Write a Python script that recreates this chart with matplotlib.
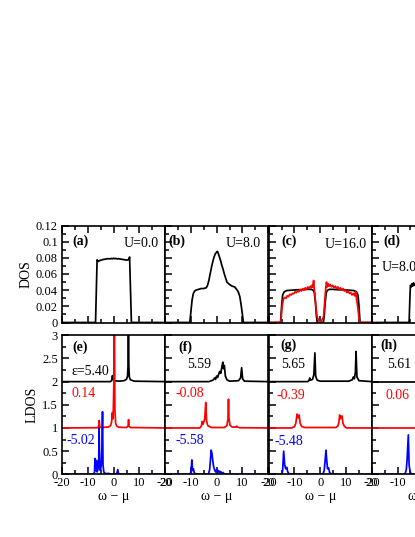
import matplotlib
matplotlib.use("Agg")
import matplotlib.pyplot as plt
from matplotlib.ticker import MultipleLocator, FuncFormatter

plt.rcParams['font.family'] = ['Liberation Serif', 'DejaVu Serif']
plt.rcParams['axes.unicode_minus'] = False
plt.rcParams['mathtext.fontset'] = 'stix'

# ---------------- top row: DOS ----------------
a_w = [-20, -7.0, -6.4, -6.1, -5.8, -5.5, -5.0, -4.5, -4.0, -3.5, -3.0, -2.5, -2.0, -1.5, -1.0, -0.5,
       0.0, 0.5, 1.0, 1.5, 2.0, 2.5, 3.0, 3.5, 4.0, 4.5, 5.0, 5.5, 5.9, 6.2, 6.9, 20]
a_dos = [0, 0, 0.0775, 0.0765, 0.0755, 0.0765, 0.077, 0.0775, 0.078, 0.0782, 0.0785, 0.0788, 0.079,
         0.0786, 0.0793, 0.0788, 0.0795, 0.0789, 0.0792, 0.0786, 0.079, 0.0785, 0.0784, 0.078, 0.0778,
         0.0775, 0.0772, 0.0775, 0.078, 0.081, 0, 0]

b_w = [-20, -10.4, -10.0, -9.5, -9.0, -8.5, -8.0, -7.0, -6.0, -5.0, -4.0, -3.5, -3.0, -2.5, -2.0,
       -1.5, -1.0, -0.5, 0.0, 0.3, 0.6, 1.0, 1.5, 2.0, 2.5, 3.0, 3.5, 4.0, 5.0, 6.0, 7.0, 7.5, 8.0,
       8.5, 9.0, 9.5, 10.0, 10.4, 20]
b_dos = [0, 0, 0.012, 0.028, 0.036, 0.039, 0.040, 0.041, 0.042, 0.042, 0.043, 0.046, 0.052, 0.060,
         0.068, 0.075, 0.081, 0.085, 0.087, 0.088, 0.086, 0.082, 0.077, 0.071, 0.066, 0.060, 0.055,
         0.050, 0.047, 0.045, 0.044, 0.042, 0.040, 0.037, 0.032, 0.022, 0.010, 0, 0]

c_w = [-20, -15.4, -15.0, -14.6, -14.0, -13.0, -11.0, -9.0, -7.0, -5.0, -3.5, -2.8, -2.3, -1.9,
       -1.5, -1.2, 1.2, 1.5, 1.9, 2.3, 2.8, 3.5, 5.0, 7.0, 9.0, 11.0, 13.0, 14.0, 14.6, 15.0, 15.4, 20]
c_dos_black = [0, 0, 0.02, 0.034, 0.038, 0.0395, 0.040, 0.0405, 0.0405, 0.041, 0.041, 0.040, 0.037,
               0.025, 0.008, 0, 0, 0.008, 0.025, 0.037, 0.040, 0.041, 0.041, 0.0405, 0.0405, 0.040,
               0.0395, 0.038, 0.034, 0.02, 0, 0]

c_red_w = [-20, -15.3, -14.8, -14.3, -13.8, -13.3, -12.8, -12.3, -11.8, -11.3, -10.8, -10.3, -9.8,
           -9.3, -8.8, -8.3, -7.8, -7.3, -6.8, -6.3, -5.8, -5.3, -4.8, -4.3, -3.8, -3.3, -3.0, -2.8,
           -2.6, -2.4, -2.1, -1.7, -1.3, -1.0, 0.0, 1.0, 1.3, 1.7, 2.1, 2.4, 2.7, 3.0, 3.4, 3.8, 4.3,
           4.8, 5.3, 5.8, 6.3, 6.8, 7.3, 7.8, 8.3, 8.8, 9.3, 9.8, 10.3, 10.8, 11.3, 11.8, 12.3, 12.8,
           13.3, 13.7, 14.0, 14.5, 15.0, 15.4, 20]
c_dos_red = [0, 0, 0.02, 0.029, 0.031, 0.030, 0.033, 0.032, 0.035, 0.034, 0.036, 0.0355, 0.038,
             0.037, 0.039, 0.038, 0.041, 0.039, 0.042, 0.040, 0.043, 0.041, 0.044, 0.042, 0.045,
             0.043, 0.047, 0.044, 0.052, 0.043, 0.035, 0.02, 0.008, 0.005, 0, 0.005, 0.008, 0.025,
             0.042, 0.050, 0.044, 0.048, 0.045, 0.047, 0.044, 0.046, 0.043, 0.045, 0.042, 0.044,
             0.041, 0.043, 0.040, 0.042, 0.039, 0.040, 0.037, 0.039, 0.036, 0.037, 0.034, 0.036,
             0.033, 0.038, 0.030, 0.02, 0.005, 0, 0]

d_w = [-20, -5.5, -5.2, -5.0, -4.7, -4.4, -4.1, -3.8, -3.5, -3.2, -2.9, -2.0, 0.0, 2.0, 3.0, 4.5,
       5.0, 5.3, 20]
d_dos = [0, 0, 0.03, 0.046, 0.044, 0.048, 0.045, 0.049, 0.046, 0.048, 0.046, 0.047, 0.046, 0.047,
         0.046, 0.047, 0.03, 0, 0]

# ---------------- bottom row: LDOS (black +2, red +1, blue +0) ----------------
e_black_w = [-20, -1.2, -0.7, -0.45, -0.2, 0.3, 2.0, 4.0, 5.0, 5.4, 5.6, 5.75, 5.9, 6.1, 6.5, 8.0, 20]
e_black = [0, 0, 0.03, 0.13, 0.05, 0.02, 0.01, 0.02, 0.05, 0.12, 0.35, 1.6, 0.35, 0.1, 0.04, 0.01, 0]
e_red_w = [-20, -6.3, -5.8, -5.6, -5.4, -5.0, -2.0, -1.2, -0.8, -0.5, -0.3, -0.1, 0.1, 0.3, 0.5,
           0.8, 1.2, 2.0, 5.0, 5.6, 5.8, 6.0, 6.5, 20]
e_red = [0, 0.005, 0.03, 0.16, 0.03, 0.01, 0.02, 0.05, 0.12, 0.33, 0.2, 0.4, 1.0, 2.5, 0.4, 0.1,
         0.04, 0.015, 0.01, 0.04, 0.18, 0.04, 0.01, 0]
e_blue_w = [-20, -7.8, -7.4, -7.2, -7.0, -6.8, -6.6, -6.4, -6.1, -5.8, -5.6, -5.4, -5.1, -4.8,
            -4.5, -4.3, -4.1, -3.8, -3.4, -3.0, -2.0, -1.0, 1.2, 1.6, 2.0, 3.0, 20]
e_blue = [0, 0, 0.05, 0.34, 0.08, 0.1, 0.3, 0.05, 0.1, 0.2, 1.0, 0.15, 0.08, 0.2, 0.6, 1.35, 0.2,
          0.05, 0.03, 0.01, 0.02, 0.0, 0.0, 0.1, 0.0, 0.0, 0]

f_black_w = [-20, -3.0, -2.0, -1.2, -0.8, -0.4, 0.0, 0.4, 0.8, 1.2, 1.6, 2.0, 2.4, 2.7, 3.0, 3.4,
             4.0, 5.0, 8.5, 9.3, 9.7, 10.1, 10.8, 20]
f_black = [0, 0.0, 0.02, 0.04, 0.08, 0.05, 0.12, 0.09, 0.16, 0.22, 0.18, 0.3, 0.42, 0.28, 0.35,
           0.12, 0.04, 0.01, 0.02, 0.08, 0.3, 0.06, 0.01, 0]
f_red_w = [-20, -6.5, -5.9, -5.6, -5.3, -5.0, -4.6, -4.2, -3.9, -3.4, -2.0, 3.0, 4.0, 4.4, 4.6,
           4.8, 5.2, 6.0, 7.5, 7.8, 8.1, 9.0, 20]
f_red = [0, 0, 0.04, 0.14, 0.08, 0.12, 0.2, 0.55, 0.15, 0.05, 0.01, 0.01, 0.05, 0.2, 0.62, 0.2,
         0.06, 0.02, 0.02, 0.04, 0.02, 0.005, 0]
f_blue_w = [-20, -10.3, -9.9, -9.6, -9.3, -9.0, -8.6, -7.0, -3.2, -2.7, -2.4, -2.1, -1.8, -1.5,
            -1.2, -0.8, -0.4, 0.0, 0.4, 0.8, 1.2, 1.6, 2.0, 2.5, 3.0, 20]
f_blue = [0, 0, 0.06, 0.31, 0.08, 0.12, 0.02, 0, 0, 0.1, 0.3, 0.52, 0.45, 0.3, 0.18, 0.1, 0.05,
          0.1, 0.04, 0.08, 0.03, 0.06, 0.02, 0.04, 0.0, 0]

g_black_w = [-20, -5.0, -4.4, -4.1, -3.8, -3.0, -2.5, -2.1, -1.8, -1.2, 0.0, 11.0, 12.4, 12.8, 13.2,
             13.6, 13.85, 14.2, 15.0, 20]
g_black = [0, 0, 0.02, 0.08, 0.03, 0.05, 0.15, 0.62, 0.12, 0.03, 0.01, 0.01, 0.04, 0.1, 0.06, 0.2,
           0.65, 0.1, 0.02, 0]
g_red_w = [-20, -11.0, -10.0, -9.5, -9.0, -8.6, -8.2, -7.8, -7.2, -6.0, 6.0, 6.8, 7.2, 7.5, 7.9,
           8.4, 8.8, 9.4, 10.2, 20]
g_red = [0, 0, 0.03, 0.1, 0.3, 0.22, 0.28, 0.1, 0.03, 0.01, 0.01, 0.04, 0.12, 0.28, 0.2, 0.26,
         0.1, 0.03, 0.0, 0]
g_blue_w = [-20, -15.0, -14.6, -14.2, -13.8, -13.4, -13.0, -12.6, -12.0, 1.0, 1.5, 1.8, 2.2, 2.5,
            2.8, 3.2, 3.6, 4.5, 20]
g_blue = [0, 0, 0.08, 0.5, 0.2, 0.12, 0.15, 0.05, 0, 0, 0.08, 0.25, 0.52, 0.3, 0.12, 0.14, 0.04,
          0.0, 0]

h_black_w = [-20, 20]
h_black = [0, 0]
h_red_w = [-20, 20]
h_red = [0, 0]
h_blue_w = [-20, -7.5, -7.0, -6.6, -6.3, -5.8, -5.5, -5.1, -4.5, 20]
h_blue = [0, 0, 0.02, 0.1, 0.3, 0.85, 0.2, 0.05, 0, 0]

top_panels = [
    dict(tag='(a)', tag_xy=(-15.8, 0.1), u='U=0.0', u_xy=(17.4, 0.098), u_ha='right',
         curves=[(a_w, a_dos, 'black')]),
    dict(tag='(b)', tag_xy=(-18.7, 0.1), u='U=8.0', u_xy=(17.3, 0.098), u_ha='right',
         curves=[(b_w, b_dos, 'black')]),
    dict(tag='(c)', tag_xy=(-15.0, 0.1), u='U=16.0', u_xy=(18.1, 0.096), u_ha='right',
         curves=[(c_w, c_dos_black, 'black'), (c_red_w, c_dos_red, 'red')]),
    dict(tag='(d)', tag_xy=(-15.5, 0.1), u='U=8.0', u_xy=(-16.2, 0.068), u_ha='left',
         curves=[(d_w, d_dos, 'black')]),
]

bottom_panels = [
    dict(tag='(e)', tag_xy=(-15.8, 2.74),
         labels=[('ε=5.40', (-16.2, 2.22), 'black'), ('0.14', (-16.2, 1.75), 'red'),
                 ('-5.02', (-18.1, 0.74), 'blue')],
         curves=[(e_black_w, e_black, 'black'), (e_red_w, e_red, 'red'), (e_blue_w, e_blue, 'blue')]),
    dict(tag='(f)', tag_xy=(-14.8, 2.75),
         labels=[('5.59', (-11.5, 2.36), 'black'), ('-0.08', (-16.1, 1.75), 'red'),
                 ('-5.58', (-16.1, 0.72), 'blue')],
         curves=[(f_black_w, f_black, 'black'), (f_red_w, f_red, 'red'), (f_blue_w, f_blue, 'blue')]),
    dict(tag='(g)', tag_xy=(-15.6, 2.79),
         labels=[('5.65', (-15.0, 2.36), 'black'), ('-0.39', (-16.9, 1.71), 'red'),
                 ('-5.48', (-17.6, 0.70), 'blue')],
         curves=[(g_black_w, g_black, 'black'), (g_red_w, g_red, 'red'), (g_blue_w, g_blue, 'blue')]),
    dict(tag='(h)', tag_xy=(-16.8, 2.79),
         labels=[('5.61', (-14.2, 2.36), 'black'), ('0.06', (-14.8, 1.71), 'red')],
         curves=[(h_black_w, h_black, 'black'), (h_red_w, h_red, 'red'), (h_blue_w, h_blue, 'blue')]),
]
offsets = {'black': 2.0, 'red': 1.0, 'blue': 0.0}

W, H = 415, 537
fig = plt.figure(figsize=(W / 100, H / 100), dpi=100)

lefts = [62, 165, 268.7, 371.7]
pw = 103.2
top_y0, top_y1 = 225.5, 322.5
bot_y0, bot_y1 = 335.3, 474.3

fmt = FuncFormatter(lambda v, p: '{:g}'.format(round(v, 4)))


def style(ax, top_row):
    for s in ax.spines.values():
        s.set_linewidth(1.2)
    ax.xaxis.set_major_locator(MultipleLocator(10))
    ax.xaxis.set_minor_locator(MultipleLocator(5))
    ax.tick_params(which='both', direction='in', right=False, top=top_row, width=1.1,
                   labelsize=9)
    ax.tick_params(which='major', length=5)
    ax.tick_params(which='minor', length=2.7)
    ax.tick_params(axis='x', pad=2)
    ax.tick_params(axis='y', pad=3)
    ax.xaxis.set_major_formatter(fmt)
    ax.yaxis.set_major_formatter(fmt)


for i, p in enumerate(top_panels):
    ax = fig.add_axes([lefts[i] / W, 1 - top_y1 / H, pw / W, (top_y1 - top_y0) / H])
    for w, v, c in p['curves']:
        ax.plot(w, v, color=c, lw=1.25)
    ax.set_xlim(-20, 20)
    ax.set_ylim(0, 0.12)
    ax.yaxis.set_major_locator(MultipleLocator(0.02))
    ax.yaxis.set_minor_locator(MultipleLocator(0.01))
    style(ax, True)
    ax.tick_params(labelbottom=False, labelleft=(i == 0))
    ax.text(*p['tag_xy'], p['tag'], fontsize=10, fontweight='bold', ha='left', va='center')
    ax.text(*p['u_xy'], p['u'], fontsize=10, ha=p['u_ha'], va='center')

for i, p in enumerate(bottom_panels):
    ax = fig.add_axes([lefts[i] / W, 1 - bot_y1 / H, pw / W, (bot_y1 - bot_y0) / H])
    for w, v, c in p['curves']:
        ax.plot(w, [x + offsets[c] for x in v], color=c, lw=1.25)
    ax.set_xlim(-20, 20)
    ax.set_ylim(0, 3)
    ax.yaxis.set_major_locator(MultipleLocator(0.5))
    ax.yaxis.set_minor_locator(MultipleLocator(0.25))
    style(ax, False)
    ax.tick_params(labelleft=(i == 0))
    ax.text(*p['tag_xy'], p['tag'], fontsize=10, fontweight='bold', ha='left', va='center')
    for t, xy, c in p['labels']:
        ax.text(*xy, t, fontsize=10, color=c, ha='left', va='center')
    ax.text(0.5, -0.161, 'ω − μ', transform=ax.transAxes, fontsize=10, ha='center', va='center')

fig.text(26 / W, 1 - (top_y0 + top_y1) / 2 / H, 'DOS', rotation=90, fontsize=10,
         ha='center', va='center')
fig.text(32 / W, 1 - (bot_y0 + bot_y1) / 2 / H, 'LDOS', rotation=90, fontsize=10,
         ha='center', va='center')

fig.savefig('out.png', dpi=100)
